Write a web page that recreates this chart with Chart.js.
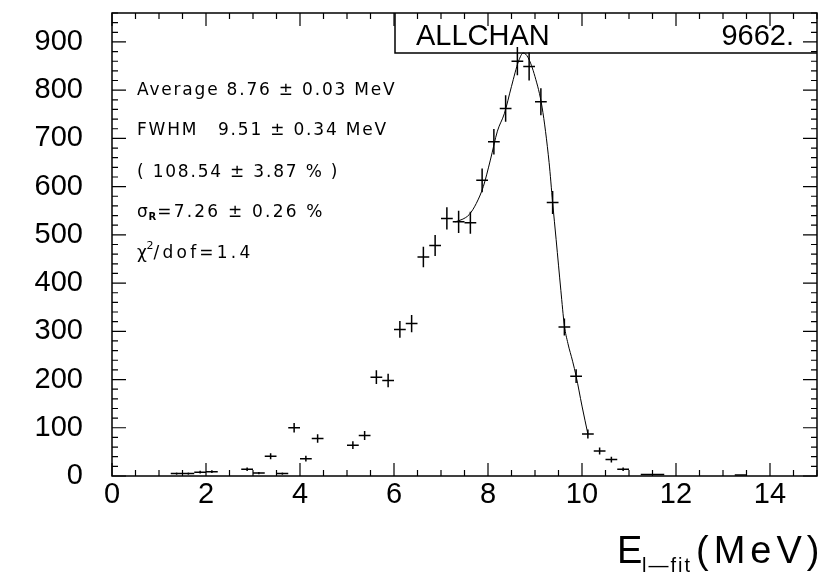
<!DOCTYPE html>
<html><head><meta charset="utf-8">
<style>html,body{margin:0;padding:0;background:#fff}canvas{display:block}</style>
<script src="https://cdn.jsdelivr.net/npm/chart.js@4.4.0/dist/chart.umd.min.js"></script>
</head><body>
<canvas id="c" width="832" height="578"></canvas>
<script>
// ---- data ----
const binCenters = [1.375,1.625,1.875,2.125,2.875,3.125,3.375,3.625,3.875,4.125,4.375,5.125,5.375,5.625,5.875,6.125,6.375,6.625,6.875,7.125,7.375,7.625,7.875,8.125,8.375,8.625,8.875,9.125,9.375,9.625,9.875,10.125,10.375,10.625,10.875,11.375,11.625,13.375];
const counts =     [5,5,8,9,14,6,41,5,100,36,78,64,84,205,198,304,316,454,478,534,527,525,613,693,762,860,849,776,567,309,207,87,52,34,14,3,3,2];
const countErrors =[2.2,2.2,2.8,3,3.7,2.4,6.4,2.2,10,6,8.8,8,9.2,14.3,14.1,17.4,17.8,21.3,21.9,23.1,23,22.9,24.8,26.3,27.6,29.3,29.1,27.9,23.8,17.6,14.4,9.3,7.2,5.8,3.7,1.7,1.7,1.4];
const binHalfWidth = 0.125;
const fitX = [7.3,7.45,7.6,7.75,7.9,8.05,8.2,8.35,8.5,8.65,8.75,8.85,9.0,9.15,9.3,9.375,9.45,9.55,9.625,9.7,9.8,9.875,10.0,10.125];
const fitY = [527,532,542,565,600,655,715,752,808,860,877,868,828,765,650,567,490,385,312,275,238,207,145,87];
const xTickLabels = [0,2,4,6,8,10,12,14];
const yTickLabels = [0,100,200,300,400,500,600,700,800,900];
const xRange = [0,15];
const yRange = [0,960];
const titleName = 'ALLCHAN';
const titleEntries = '9662.';

const framePlugin = {
  id:'frame',
  afterDatasetsDraw(chart){
    const {ctx, chartArea:a, scales:{x,y}} = chart;
    ctx.save();
    ctx.strokeStyle='#000';
    const meta = chart.getDatasetMeta(0);
    ctx.lineWidth=1.5;
    meta.data.forEach((pt,i)=>{
      const c = binCenters[i];
      const x0 = x.getPixelForValue(c-binHalfWidth), x1 = x.getPixelForValue(c+binHalfWidth);
      const y0 = y.getPixelForValue(Math.max(0,counts[i]-countErrors[i])), y1 = y.getPixelForValue(counts[i]+countErrors[i]);
      ctx.beginPath();
      ctx.moveTo(x0,pt.y); ctx.lineTo(x1,pt.y);
      ctx.moveTo(pt.x,y0); ctx.lineTo(pt.x,y1);
      ctx.stroke();
    });
    ctx.lineWidth=1.5;
    ctx.strokeRect(a.left,a.top,a.right-a.left,a.bottom-a.top);
    ctx.lineWidth=1.2;
    ctx.beginPath();
    for(let v=xRange[0]; v<=xRange[1]+1e-9; v+=0.5){
      const px=x.getPixelForValue(v);
      const len = (Math.abs(v%2)<1e-9)?13:6;
      ctx.moveTo(px,a.bottom); ctx.lineTo(px,a.bottom-len);
      ctx.moveTo(px,a.top); ctx.lineTo(px,a.top+len);
    }
    for(let v=yRange[0]; v<=yRange[1]+1e-9; v+=20){
      const py=y.getPixelForValue(v);
      const len = (v%100===0)?14:6;
      ctx.moveTo(a.left,py); ctx.lineTo(a.left+len,py);
      ctx.moveTo(a.right,py); ctx.lineTo(a.right-len,py);
    }
    ctx.stroke();
    ctx.restore();
  },
  afterDraw(chart){
    const {ctx, chartArea:a} = chart;
    const ls = v=>{try{ctx.letterSpacing=v;}catch(e){}};
    ctx.save();
    ctx.fillStyle='#000'; ctx.strokeStyle='#000';
    ctx.lineWidth=1.5;
    ctx.beginPath();
    ctx.moveTo(a.left+283,a.top); ctx.lineTo(a.left+283,a.top+40); ctx.lineTo(a.right,a.top+40);
    ctx.stroke();
    ctx.font='29px "Liberation Sans"';
    ctx.textBaseline='alphabetic';
    ctx.textAlign='left';
    ctx.fillText(titleName,a.left+304,a.top+32);
    ctx.textAlign='right';
    ctx.fillText(titleEntries,a.right-23,a.top+32);
    ctx.textAlign='left';
    const sf='17px "DejaVu Sans"';
    ctx.font=sf; ls('1.8px');
    const lx=a.left+25;
    ctx.fillText('Average 8.76 \u00b1 0.03 MeV',lx,a.top+82);
    ctx.fillText('FWHM',lx,a.top+122);
    ctx.fillText('9.51 \u00b1 0.34 MeV',a.left+106,a.top+122);
    ctx.fillText('( 108.54 \u00b1 3.87 % )',lx,a.top+164);
    let w;
    ctx.fillText('\u03c3',lx,a.top+204);
    w=ctx.measureText('\u03c3').width;
    ctx.font='bold 10px "DejaVu Sans"'; ls('0px');
    ctx.fillText('R',lx+w-1,a.top+207);
    const w2=ctx.measureText('R').width;
    ctx.font=sf; ls('2.2px');
    ctx.fillText('=7.26 \u00b1 0.26 %',lx+w+w2,a.top+204);
    ctx.font=sf; ls('1.8px');
    ctx.fillText('\u03c7',lx,a.top+245);
    w=ctx.measureText('\u03c7').width;
    ctx.font='11px "DejaVu Sans"'; ls('0px');
    ctx.fillText('2',lx+w-2,a.top+236);
    ctx.font=sf; ls('3.2px');
    ctx.fillText('/dof=1.4',lx+w+5,a.top+245);
    ls('0px');
    // x axis title
    ctx.font='38px "Liberation Sans"';
    ctx.textAlign='left';
    ctx.fillText('E',617,563);
    ls('5px');
    ctx.fillText('(MeV)',696,563);
    ctx.font='20px "Liberation Sans"'; ls('2px');
    ctx.fillText('l\u2014fit',642,572);
    ls('0px');
    ctx.restore();
  }
};

new Chart(document.getElementById('c'),{
  type:'scatter',
  data:{datasets:[
    {data:binCenters.map((c,i)=>({x:c,y:counts[i]})),pointRadius:0,showLine:false},
    {data:fitX.map((v,i)=>({x:v,y:fitY[i]})),showLine:true,borderColor:'#000',borderWidth:1,pointRadius:0,cubicInterpolationMode:'monotone',fill:false}
  ]},
  options:{
    responsive:false, animation:false, devicePixelRatio:1,
    layout:{padding:{top:13,right:15,left:0,bottom:0}},
    plugins:{legend:{display:false},tooltip:{enabled:false},title:{display:false}},
    scales:{
      x:{type:'linear',min:xRange[0],max:xRange[1],
        afterBuildTicks:s=>{s.ticks=xTickLabels.map(v=>({value:v}));},
        afterFit:s=>{s.height=102;s.paddingLeft=0;s.paddingRight=0;s.paddingTop=0;s.paddingBottom=0;},
        grid:{display:false,drawTicks:false},border:{display:false},
        ticks:{padding:2,color:'#000',font:{family:'Liberation Sans',size:29},maxRotation:0,autoSkip:false}},
      y:{type:'linear',min:yRange[0],max:yRange[1],
        afterBuildTicks:s=>{s.ticks=yTickLabels.map(v=>({value:v}));},
        afterFit:s=>{s.width=112;s.paddingTop=0;s.paddingBottom=0;s.paddingLeft=0;s.paddingRight=0;},
        grid:{display:false,drawTicks:false},border:{display:false},
        ticks:{padding:29,color:'#000',font:{family:'Liberation Sans',size:29},autoSkip:false}}
    }
  },
  plugins:[framePlugin]
});
</script>
</body></html>
